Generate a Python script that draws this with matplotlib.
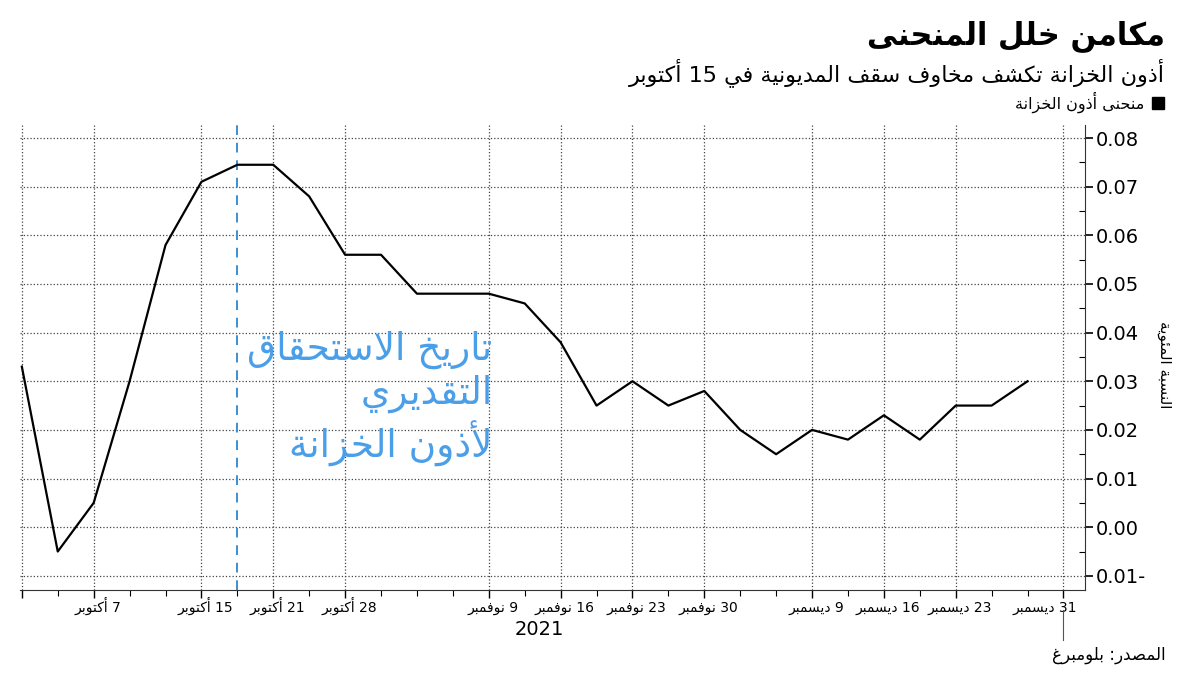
import re
import matplotlib
matplotlib.use("Agg")
import matplotlib.pyplot as plt
import matplotlib.transforms as mtransforms
from matplotlib.lines import Line2D
from matplotlib.ticker import FixedLocator, FuncFormatter, MultipleLocator

plt.rcParams['font.family'] = ['DejaVu Sans']

# --- simple arabic shaping (presentation forms) + visual order ---
_letters = [('\u0621', 0xFE80, 1), ('\u0622', 0xFE81, 2), ('\u0623', 0xFE83, 2),
            ('\u0624', 0xFE85, 2), ('\u0625', 0xFE87, 2), ('\u0626', 0xFE89, 4),
            ('\u0627', 0xFE8D, 2), ('\u0628', 0xFE8F, 4), ('\u0629', 0xFE93, 2),
            ('\u062A', 0xFE95, 4), ('\u062B', 0xFE99, 4), ('\u062C', 0xFE9D, 4),
            ('\u062D', 0xFEA1, 4), ('\u062E', 0xFEA5, 4), ('\u062F', 0xFEA9, 2),
            ('\u0630', 0xFEAB, 2), ('\u0631', 0xFEAD, 2), ('\u0632', 0xFEAF, 2),
            ('\u0633', 0xFEB1, 4), ('\u0634', 0xFEB5, 4), ('\u0635', 0xFEB9, 4),
            ('\u0636', 0xFEBD, 4), ('\u0637', 0xFEC1, 4), ('\u0638', 0xFEC5, 4),
            ('\u0639', 0xFEC9, 4), ('\u063A', 0xFECD, 4), ('\u0641', 0xFED1, 4),
            ('\u0642', 0xFED5, 4), ('\u0643', 0xFED9, 4), ('\u0644', 0xFEDD, 4),
            ('\u0645', 0xFEE1, 4), ('\u0646', 0xFEE5, 4), ('\u0647', 0xFEE9, 4),
            ('\u0648', 0xFEED, 2), ('\u0649', 0xFEEF, 2), ('\u064A', 0xFEF1, 4)]
FORMS = {c: [chr(s + k) for k in range(n)] for c, s, n in _letters}
LAM_ALEF = {'\u0622': 0xFEF5, '\u0623': 0xFEF7, '\u0625': 0xFEF9, '\u0627': 0xFEFB}


def shape(text):
    out = []
    i = 0
    n = len(text)
    while i < n:
        c = text[i]
        if c not in FORMS:
            out.append(c)
            i += 1
            continue
        prev = text[i - 1] if i > 0 else ''
        jp = prev in FORMS and len(FORMS[prev]) == 4
        if c == '\u0644' and i + 1 < n and text[i + 1] in LAM_ALEF:
            out.append(chr(LAM_ALEF[text[i + 1]] + (1 if jp else 0)))
            i += 2
            continue
        nxt = text[i + 1] if i + 1 < n else ''
        f = FORMS[c]
        jn = len(f) == 4 and nxt in FORMS
        if jp and jn:
            out.append(f[3])
        elif jp:
            out.append(f[1] if len(f) > 1 else f[0])
        elif jn:
            out.append(f[2])
        else:
            out.append(f[0])
        i += 1
    return ''.join(out)


def ar(text):
    lines = []
    for line in text.split('\n'):
        s = shape(line)
        runs = re.findall(r'[0-9A-Za-z.]+|[^0-9A-Za-z.]+', s)
        lines.append(''.join(r if re.match(r'[0-9A-Za-z.]', r) else r[::-1]
                             for r in reversed(runs)))
    return '\n'.join(lines)


# --- data ---
yields = [0.033, -0.005, 0.005, 0.030, 0.058, 0.071, 0.0745, 0.0745, 0.068,
          0.056, 0.056, 0.048, 0.048, 0.048, 0.046, 0.038, 0.025, 0.030,
          0.025, 0.028, 0.020, 0.015, 0.020, 0.018, 0.023, 0.018, 0.025,
          0.025, 0.030]
tick_pos = [2, 5, 7, 9, 13, 15, 17, 19, 22, 24, 26, 29]
tick_labels = ["7 أكتوبر", "15 أكتوبر", "21 أكتوبر", "28 أكتوبر", "9 نوفمبر",
               "16 نوفمبر", "23 نوفمبر", "30 نوفمبر", "9 ديسمبر", "16 ديسمبر",
               "23 ديسمبر", "31 ديسمبر"]
x_date = 6

fig = plt.figure(figsize=(12, 6.75), dpi=100)
ax = fig.add_axes([0.0167, 0.126, 0.8875, 0.689])

ax.plot(range(len(yields)), yields, color='black', lw=1.6, zorder=3)
ax.axvline(x_date, color='#3d8fd1', lw=1.4, ls=(0, (5, 4)), zorder=2)

ax.set_xlim(-0.05, 29.6)
ax.set_ylim(-0.0129, 0.0827)

ax.xaxis.set_major_locator(FixedLocator([0] + tick_pos))
ax.set_xticklabels([''] + [ar(t) for t in tick_labels], fontsize=10)
ax.xaxis.set_minor_locator(MultipleLocator(1))
ax.tick_params(axis='x', which='major', length=6, width=1, pad=9.5)
ax.tick_params(axis='x', which='minor', length=4, width=0.8)

xlbls = ax.get_xticklabels()
for lb in xlbls:
    lb.set_verticalalignment('baseline')
for lb in xlbls[1:-1]:
    lb.set_transform(lb.get_transform() +
                     mtransforms.ScaledTranslation(4 / 100, 0, fig.dpi_scale_trans))
xlbls[-1].set_horizontalalignment('right')
xlbls[-1].set_transform(xlbls[-1].get_transform() +
                        mtransforms.ScaledTranslation(14 / 100, 0, fig.dpi_scale_trans))

ax.yaxis.tick_right()
ax.yaxis.set_major_locator(MultipleLocator(0.01))
ax.yaxis.set_minor_locator(MultipleLocator(0.005))
ax.yaxis.set_major_formatter(FuncFormatter(
    lambda v, p: ('%.2f-' % abs(v)) if v < -1e-9 else '%.2f' % abs(v)))
ax.tick_params(axis='y', which='major', length=6, width=1.2, labelsize=14, pad=2)
ax.tick_params(axis='y', which='minor', length=4, width=0.8, direction='in')

ax.grid(True, which='major', ls=':', color='#444444', lw=0.9)
for s in ['top', 'left']:
    ax.spines[s].set_visible(False)
ax.spines['bottom'].set_color('#333333')
ax.spines['right'].set_color('#333333')

ax.text(13.1, 0.0264, ar("تاريخ الاستحقاق\nالتقديري\nلأذون الخزانة"),
        color='#4a9fe8', fontsize=27, ha='right', va='center',
        linespacing=1.2, zorder=4)

ax.set_ylabel(ar("النسبة المئوية"), rotation=-90, fontsize=11)
ax.yaxis.set_label_position('right')
ax.yaxis.set_label_coords(1.082, 0.484)

ax.text(0.488, -0.085, "2021", transform=ax.transAxes, fontsize=14,
        ha='center', va='center')

trans = mtransforms.blended_transform_factory(ax.transData, ax.transAxes)
ax.plot([29, 29], [-0.043, -0.108], transform=trans, color='#555555',
        lw=0.8, clip_on=False)

fig.text(0.971, 0.946, ar("مكامن خلل المنحنى"), fontsize=22,
         fontweight='bold', ha='right', va='center')
fig.text(0.971, 0.893, ar("أذون الخزانة تكشف مخاوف سقف المديونية في 15 أكتوبر"),
         fontsize=16, ha='right', va='center')
fig.text(0.971, 0.030, ar("المصدر: بلومبرغ"), fontsize=12,
         ha='right', va='center')

handle = Line2D([], [], marker='s', color='black', ls='none', markersize=8)
fig.legend([handle], [ar("منحنى أذون الخزانة")], loc='center right',
           bbox_to_anchor=(0.982, 0.849), frameon=False, markerfirst=False,
           handlelength=0.8, handletextpad=0.4, fontsize=11.5)

fig.savefig('out.png', dpi=100)
